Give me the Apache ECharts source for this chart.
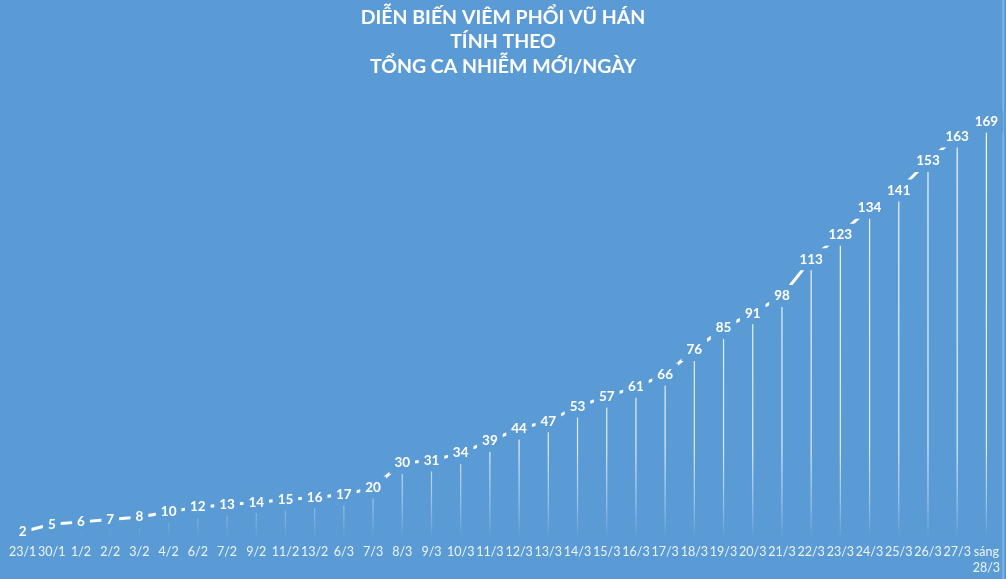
<!DOCTYPE html>
<html>
<head>
<meta charset="utf-8">
<script src="https://cdn.jsdelivr.net/npm/echarts@6/dist/echarts.min.js"></script>
<style>
html,body{margin:0;padding:0;background:#5b9bd5;}
#chart{width:1006px;height:579px;}
</style>
</head>
<body>
<div id="chart"></div>
<script>
const titleLines = ['DIỄN BIẾN VIÊM PHỔI VŨ HÁN', 'TÍNH THEO', 'TỔNG CA NHIỄM MỚI/NGÀY'];
const categories = ['23/1','30/1','1/2','2/2','3/2','4/2','6/2','7/2','9/2','11/2','13/2','6/3','7/3','8/3','9/3','10/3','11/3','12/3','13/3','14/3','15/3','16/3','17/3','18/3','19/3','20/3','21/3','22/3','23/3','24/3','25/3','26/3','27/3','sáng\n28/3'];
const newCases = [2,5,6,7,8,10,12,13,14,15,16,17,20,30,31,34,39,44,47,53,57,61,66,76,85,91,98,113,123,134,141,153,163,169];

const BG = '#5b9bd5';
const chart = echarts.init(document.getElementById('chart'), null, {renderer: 'canvas'});
chart.setOption({
  backgroundColor: BG,
  animation: false,
  title: {
    text: titleLines.join('\n'),
    left: 'center',
    top: 5,
    padding: 0,
    textStyle: {
      color: '#ffffff',
      fontFamily: 'Lato',
      fontWeight: 'bold',
      fontSize: 19.5,
      lineHeight: 24.5
    }
  },
  grid: {left: 8, right: 5, top: 94.7, bottom: 42.4, containLabel: false},
  xAxis: {
    type: 'category',
    data: categories,
    axisLine: {show: false},
    axisTick: {show: false},
    axisLabel: {
      interval: 0,
      margin: 7,
      color: '#eef4fb',
      fontFamily: 'Lato',
      fontSize: 12.5,
      lineHeight: 16
    }
  },
  yAxis: {
    type: 'value',
    min: 0,
    max: 180,
    show: false,
    splitLine: {show: false}
  },
  graphic: [{
    type: 'rect',
    shape: {x: 1002.5, y: 0, width: 1.2, height: 579},
    style: {fill: 'rgba(255,255,255,0.35)'},
    silent: true
  }],
  series: [
    {
      type: 'bar',
      data: newCases,
      barWidth: 1.2,
      silent: true,
      itemStyle: {
        color: new echarts.graphic.LinearGradient(0, 100, 0, 538, [
          {offset: 0, color: 'rgba(255,255,255,0.95)'},
          {offset: 0.8, color: 'rgba(255,255,255,0.8)'},
          {offset: 0.93, color: 'rgba(255,255,255,0.35)'},
          {offset: 1, color: 'rgba(255,255,255,0.0)'}
        ], true)
      }
    },
    {
      type: 'line',
      data: newCases,
      symbol: 'circle',
      symbolSize: 2,
      showSymbol: true,
      itemStyle: {color: 'rgba(255,255,255,0)'},
      lineStyle: {color: '#ffffff', width: 3},
      z: 3,
      label: {
        show: true,
        position: 'inside',
        color: '#ffffff',
        fontFamily: 'Lato',
        fontWeight: 'bold',
        fontSize: 13.5,
        backgroundColor: BG,
        padding: [4, 5, 4, 5]
      }
    }
  ]
});
</script>
</body>
</html>
